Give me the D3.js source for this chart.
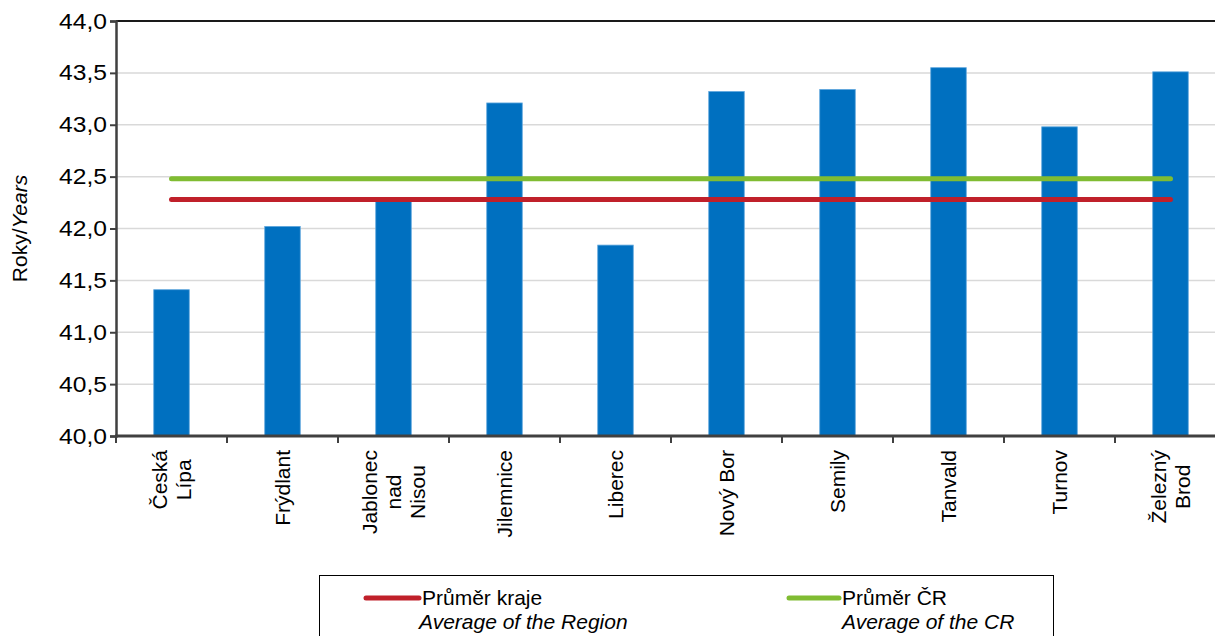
<!DOCTYPE html>
<html>
<head>
<meta charset="utf-8">
<script src="https://cdn.jsdelivr.net/npm/d3@7"></script>
<style>
  body { margin: 0; background: #fff; }
  svg { display: block; font-family: "Liberation Sans", Arial, sans-serif; }
</style>
</head>
<body>
<div id="chart"></div>
<script>
// categories (lines split for the rotated labels)
const districts = [
  ["Česká", "Lípa"], ["Frýdlant"], ["Jablonec", "nad", "Nisou"], ["Jilemnice"], ["Liberec"],
  ["Nový Bor"], ["Semily"], ["Tanvald"], ["Turnov"], ["Železný", "Brod"]
];
const avgAge = [41.41, 42.02, 42.27, 43.21, 41.84, 43.32, 43.34, 43.55, 42.98, 43.51];
const regionAvg = 42.28;
const czAvg = 42.48;
const yTicks = [40.0, 40.5, 41.0, 41.5, 42.0, 42.5, 43.0, 43.5, 44.0];
const legendItems = [
  { cz: "Průměr kraje", en: "Average of the Region", color: "#c0202a" },
  { cz: "Průměr ČR", en: "Average of the CR", color: "#80bc32" }
];

const W = 1215, H = 636;
const margin = { top: 21, left: 116 };
const plotW = 1110, plotH = 415;

const svg = d3.select("#chart").append("svg")
  .attr("width", W).attr("height", H);

const keys = districts.map(d => d.join(" "));
const x = d3.scaleBand().domain(keys).range([margin.left, margin.left + plotW])
  .paddingInner(0.68).paddingOuter(0.34);
const y = d3.scaleLinear().domain([40, 44]).range([margin.top + plotH, margin.top]);
const fmt = v => d3.format(".1f")(v).replace(".", ",");

// gridlines
svg.append("g").selectAll("line").data(yTicks.slice(1, -1)).enter().append("line")
  .attr("x1", margin.left).attr("x2", W)
  .attr("y1", d => y(d)).attr("y2", d => y(d))
  .attr("stroke", "#d9d9d9").attr("stroke-width", 1.5);

// top border
svg.append("line")
  .attr("x1", margin.left).attr("x2", W)
  .attr("y1", y(44)).attr("y2", y(44))
  .attr("stroke", "#1a1a1a").attr("stroke-width", 2);

// bars
svg.append("g").selectAll("rect").data(avgAge).enter().append("rect")
  .attr("x", (d, i) => x(keys[i]))
  .attr("y", d => y(d))
  .attr("width", x.bandwidth())
  .attr("height", d => y(40) - y(d))
  .attr("fill", "#0070c0")
  .attr("stroke", "#5ea6dc").attr("stroke-width", 0.8);

// average lines
const xFirst = x(keys[0]) + x.bandwidth() / 2;
const xLast = x(keys[keys.length - 1]) + x.bandwidth() / 2;
[[regionAvg, legendItems[0].color], [czAvg, legendItems[1].color]].forEach(([v, c]) => {
  svg.append("line")
    .attr("x1", xFirst).attr("x2", xLast)
    .attr("y1", y(v)).attr("y2", y(v))
    .attr("stroke", c).attr("stroke-width", 5).attr("stroke-linecap", "round");
});

// y axis
const stretch = 1.12;
const yAxis = svg.append("g")
  .attr("transform", `translate(${margin.left},0)`)
  .call(d3.axisLeft(y).tickValues(yTicks).tickFormat(fmt).tickSize(6).tickPadding(3));
yAxis.select(".domain").attr("stroke", "#404040").attr("stroke-width", 2.5);
yAxis.selectAll(".tick line").attr("stroke", "#404040").attr("stroke-width", 2);
yAxis.selectAll("text").attr("font-size", 22).attr("fill", "#000")
  .attr("font-family", "Liberation Sans, Arial, sans-serif")
  .attr("x", -9 / stretch)
  .attr("transform", `scale(${stretch},1)`);

// x axis
const bounds = d3.range(keys.length + 1).map(i => margin.left + i * x.step());
svg.append("line")
  .attr("x1", margin.left - 1).attr("x2", W)
  .attr("y1", y(40)).attr("y2", y(40))
  .attr("stroke", "#404040").attr("stroke-width", 3);
svg.append("g").selectAll("line").data(bounds).enter().append("line")
  .attr("x1", d => d).attr("x2", d => d)
  .attr("y1", y(40)).attr("y2", y(40) + 7)
  .attr("stroke", "#404040").attr("stroke-width", 2);

// category labels, rotated; lines centred inside the block of the longest line
const labelTop = y(40) + 14;
const lineH = 24;
districts.forEach((lines, i) => {
  const cx = x(keys[i]) + x.bandwidth() / 2;
  const g = svg.append("g")
    .attr("transform", `translate(${cx},${labelTop}) rotate(-90)`);
  const texts = lines.map((t, j) => g.append("text")
    .attr("font-size", 21).attr("fill", "#000")
    .attr("text-anchor", "middle")
    .attr("dy", "0.35em")
    .attr("y", (j - (lines.length - 1) / 2) * lineH)
    .text(t));
  const maxLen = d3.max(texts, t => t.node().getComputedTextLength());
  texts.forEach(t => t.attr("x", -maxLen / 2));
});

// y axis title
svg.append("text")
  .attr("transform", `translate(27,${margin.top + plotH / 2}) rotate(-90)`)
  .attr("text-anchor", "middle")
  .attr("font-size", 21)
  .call(t => {
    t.append("tspan").text("Roky/");
    t.append("tspan").attr("font-style", "italic").text("Years");
  });

// legend
svg.append("rect")
  .attr("x", 319.5).attr("y", 575.5).attr("width", 734).attr("height", 100)
  .attr("fill", "none").attr("stroke", "#000").attr("stroke-width", 1);
const legendX = [366, 789];
const legendLen = [53, 50];
const enShift = [-3, 0];
legendItems.forEach((it, i) => {
  const g = svg.append("g").attr("transform", `translate(${legendX[i]},0)`);
  g.append("line").attr("x1", 0).attr("x2", legendLen[i])
    .attr("y1", 598).attr("y2", 598)
    .attr("stroke", it.color).attr("stroke-width", 5).attr("stroke-linecap", "round");
  g.append("text").attr("x", legendLen[i] + 3).attr("y", 605)
    .attr("font-size", 21).text(it.cz);
  g.append("text").attr("x", legendLen[i] + 3 + enShift[i]).attr("y", 629)
    .attr("font-size", 21).attr("font-style", "italic").text(it.en);
});
</script>
</body>
</html>
